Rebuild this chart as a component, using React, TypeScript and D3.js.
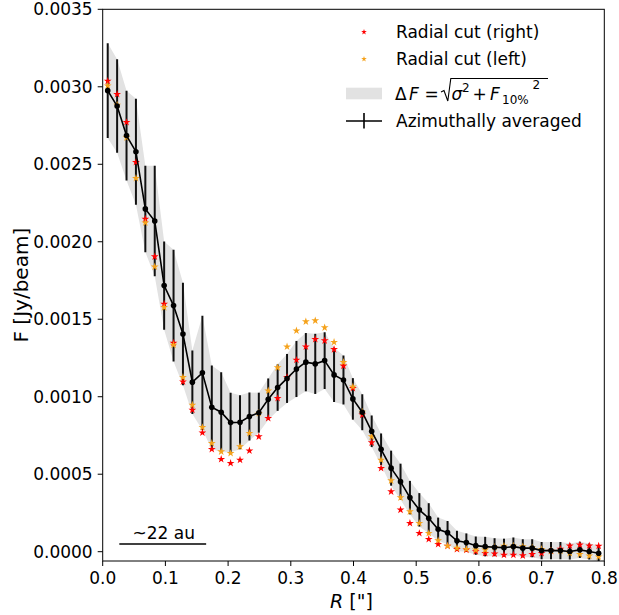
import React from "react";
import * as d3 from "d3";

// Radii of the sampled points (arcsec)
const R = [0.008, 0.023, 0.038, 0.053, 0.068, 0.083, 0.098, 0.113, 0.128, 0.143, 0.159, 0.174, 0.189, 0.204, 0.219, 0.234, 0.249, 0.264, 0.279, 0.294, 0.309, 0.324, 0.339, 0.354, 0.369, 0.384, 0.399, 0.414, 0.429, 0.444, 0.460, 0.475, 0.490, 0.505, 0.520, 0.535, 0.550, 0.565, 0.580, 0.595, 0.610, 0.625, 0.640, 0.655, 0.670, 0.685, 0.700, 0.715, 0.730, 0.745, 0.761, 0.776, 0.791];

// Azimuthally averaged flux (Jy/beam)
const meanF = [0.002975, 0.002876, 0.002685, 0.002581, 0.002212, 0.002134, 0.001717, 0.001588, 0.001405, 0.001094, 0.001154, 0.000932, 0.000900, 0.000833, 0.000835, 0.000872, 0.000897, 0.000984, 0.001059, 0.001118, 0.001179, 0.001223, 0.001212, 0.001233, 0.001141, 0.001108, 0.000986, 0.000900, 0.000777, 0.000661, 0.000539, 0.000452, 0.000349, 0.000270, 0.000216, 0.000145, 0.000123, 0.000070, 0.000059, 0.000039, 0.000033, 0.000029, 0.000026, 0.000033, 0.000023, 0.000023, 0.000007, 0.000007, 0.000007, 0.000001, 0.000012, 0.000001, -0.000010];

// Uncertainty ΔF
const errF = [0.000306, 0.000301, 0.000290, 0.000342, 0.000279, 0.000357, 0.000284, 0.000360, 0.000331, 0.000205, 0.000368, 0.000269, 0.000258, 0.000192, 0.000174, 0.000155, 0.000129, 0.000134, 0.000150, 0.000158, 0.000181, 0.000188, 0.000194, 0.000183, 0.000175, 0.000158, 0.000134, 0.000116, 0.000102, 0.000102, 0.000113, 0.000116, 0.000108, 0.000108, 0.000097, 0.000075, 0.000075, 0.000065, 0.000059, 0.000059, 0.000063, 0.000058, 0.000058, 0.000058, 0.000058, 0.000058, 0.000055, 0.000055, 0.000055, 0.000052, 0.000052, 0.000052, 0.000052];

// Radial cut (right)
const rightF = [0.003037, 0.002952, 0.002771, 0.002513, 0.002147, 0.001904, 0.001599, 0.001347, 0.001097, 0.000915, 0.000768, 0.000661, 0.000597, 0.000571, 0.000592, 0.000652, 0.000743, 0.000861, 0.000990, 0.001126, 0.001237, 0.001323, 0.001371, 0.001362, 0.001306, 0.001199, 0.001055, 0.000883, 0.000704, 0.000539, 0.000388, 0.000270, 0.000184, 0.000119, 0.000081, 0.000048, 0.000037, 0.000016, 0.000012, 0.000001, -0.000010, -0.000014, -0.000021, -0.000021, -0.000025, -0.000016, -0.000010, 0.000005, 0.000018, 0.000039, 0.000044, 0.000039, 0.000037];

// Radial cut (left)
const leftF = [0.003007, 0.002883, 0.002672, 0.002410, 0.002123, 0.001839, 0.001577, 0.001334, 0.001126, 0.000947, 0.000803, 0.000700, 0.000646, 0.000635, 0.000678, 0.000765, 0.000894, 0.001039, 0.001188, 0.001323, 0.001426, 0.001485, 0.001491, 0.001446, 0.001352, 0.001223, 0.001065, 0.000902, 0.000743, 0.000592, 0.000459, 0.000349, 0.000259, 0.000184, 0.000119, 0.000072, 0.000037, 0.000023, 0.000016, 0.000012, 0.000012, 0.000029, 0.000037, 0.000037, 0.000033, 0.000026, 0.000016, 0.000005, 0.000005, -0.000010, -0.000016, -0.000027, -0.000032];

const xTicks = [0, 0.1, 0.2, 0.3, 0.4, 0.5, 0.6, 0.7, 0.8];
const yTicks = [0, 0.0005, 0.001, 0.0015, 0.002, 0.0025, 0.003, 0.0035];

// scale bar (arcsec) and its label
const scaleBarR = [0.0265, 0.165];
const scaleBarF = 0.00005;
const scaleBarLabel = "~22 au";

const W = 619;
const H = 615;
const FONT = "DejaVu Sans";
const RED = "#ff0000";
const ORANGE = "#f5a21b";
const BAND = "#e2e2e2";

export default function App() {
  const x = d3.scaleLinear().domain([0, 0.8]).range([102.7, 604.3]);
  const y = d3.scaleLinear().domain([-0.00006, 0.0035]).range([561, 9.3]);
  const idx = d3.range(R.length);

  const area = d3
    .area<number>()
    .x((i) => x(R[i]))
    .y0((i) => y(meanF[i] - errF[i]))
    .y1((i) => y(meanF[i] + errF[i]));
  const line = d3
    .line<number>()
    .x((i) => x(R[i]))
    .y((i) => y(meanF[i]));
  const star = d3.symbol().type(d3.symbolStar).size(19)() as string;
  const starSmall = d3.symbol().type(d3.symbolStar).size(10)() as string;

  const [x0, x1] = x.range();
  const [yb, yt] = y.range();

  return (
    <svg
      width={W}
      height={H}
      style={{ position: "absolute", left: 0, top: 0, background: "#fff" }}
      fontFamily={FONT}
    >
      <defs>
        <clipPath id="plotclip">
          <rect x={x0} y={yt} width={x1 - x0} height={yb - yt} />
        </clipPath>
      </defs>
      <rect x={0} y={0} width={W} height={H} fill="#fff" />
      <g clipPath="url(#plotclip)">
        <path d={area(idx) || ""} fill={BAND} />
        {idx.map((i) => (
          <line
            key={"e" + i}
            x1={x(R[i])}
            x2={x(R[i])}
            y1={y(meanF[i] - errF[i])}
            y2={y(meanF[i] + errF[i])}
            stroke="#111"
            strokeWidth={2}
          />
        ))}
        {idx.map((i) => (
          <path
            key={"r" + i}
            d={star}
            transform={`translate(${x(R[i])},${y(rightF[i])})`}
            fill={RED}
          />
        ))}
        {idx.map((i) => (
          <path
            key={"l" + i}
            d={star}
            transform={`translate(${x(R[i])},${y(leftF[i])})`}
            fill={ORANGE}
          />
        ))}
        <path d={line(idx) || ""} fill="none" stroke="#000" strokeWidth={1.6} />
        {idx.map((i) => (
          <circle key={"c" + i} cx={x(R[i])} cy={y(meanF[i])} r={2.8} fill="#000" />
        ))}
      </g>

      {/* scale bar */}
      <line
        x1={x(scaleBarR[0])}
        x2={x(scaleBarR[1])}
        y1={y(scaleBarF)}
        y2={y(scaleBarF)}
        stroke="#000"
        strokeWidth={1.5}
      />
      <text
        x={(x(scaleBarR[0]) + x(scaleBarR[1])) / 2 + 1}
        y={y(scaleBarF) - 5}
        fontSize={17}
        textAnchor="middle"
        fill="#000"
      >
        {scaleBarLabel}
      </text>

      {/* frame */}
      <rect x={x0} y={yt} width={x1 - x0} height={yb - yt} fill="none" stroke="#000" strokeWidth={1} />

      {/* x ticks */}
      {xTicks.map((t) => (
        <g key={"xt" + t}>
          <line x1={x(t)} x2={x(t)} y1={yb} y2={yb + 5} stroke="#000" />
          <text x={x(t)} y={yb + 23} fontSize={17} textAnchor="middle" fill="#000">
            {t.toFixed(1)}
          </text>
        </g>
      ))}
      {/* y ticks */}
      {yTicks.map((t) => (
        <g key={"yt" + t}>
          <line x1={x0 - 5} x2={x0} y1={y(t)} y2={y(t)} stroke="#000" />
          <text x={x0 - 10} y={y(t) + 6} fontSize={17} textAnchor="end" fill="#000">
            {t.toFixed(4)}
          </text>
        </g>
      ))}

      {/* axis labels */}
      <text x={(x0 + x1) / 2 - 2} y={608} fontSize={19} textAnchor="middle" fill="#000">
        <tspan fontStyle="italic">R</tspan>
        <tspan> ["]</tspan>
      </text>
      <text
        transform={`translate(28,${(yt + yb) / 2}) rotate(-90)`}
        fontSize={20}
        textAnchor="middle"
        fill="#000"
      >
        F [Jy/beam]
      </text>

      {/* legend */}
      <g fill="#000" fontSize={17}>
        <path d={starSmall} transform="translate(364,32)" fill={RED} />
        <text x={396} y={38}>Radial cut (right)</text>
        <path d={starSmall} transform="translate(364,59)" fill={ORANGE} />
        <text x={396} y={65}>Radial cut (left)</text>

        <rect x={346} y={87.7} width={36} height={11.6} fill={BAND} />
        <text x={395} y={100}>Δ</text>
        <text x={409} y={100} fontStyle="italic">F</text>
        <text x={424.5} y={100}>=</text>
        <path d="M441,92 L444,90.5 L447.8,101 L450.8,78.5 L548,78.5" fill="none" stroke="#000" strokeWidth={1.1} />
        <text x={451.5} y={100} fontStyle="italic">σ</text>
        <text x={462} y={92} fontSize={12}>2</text>
        <text x={472.5} y={100}>+</text>
        <text x={490} y={100} fontStyle="italic">F</text>
        <text x={502} y={104} fontSize={12}>10%</text>
        <text x={532.5} y={89} fontSize={12}>2</text>

        <line x1={346} x2={382} y1={121} y2={121} stroke="#000" strokeWidth={1.6} />
        <line x1={364} x2={364} y1={113} y2={128.5} stroke="#000" strokeWidth={1.6} />
        <text x={396} y={127}>Azimuthally averaged</text>
      </g>
    </svg>
  );
}
